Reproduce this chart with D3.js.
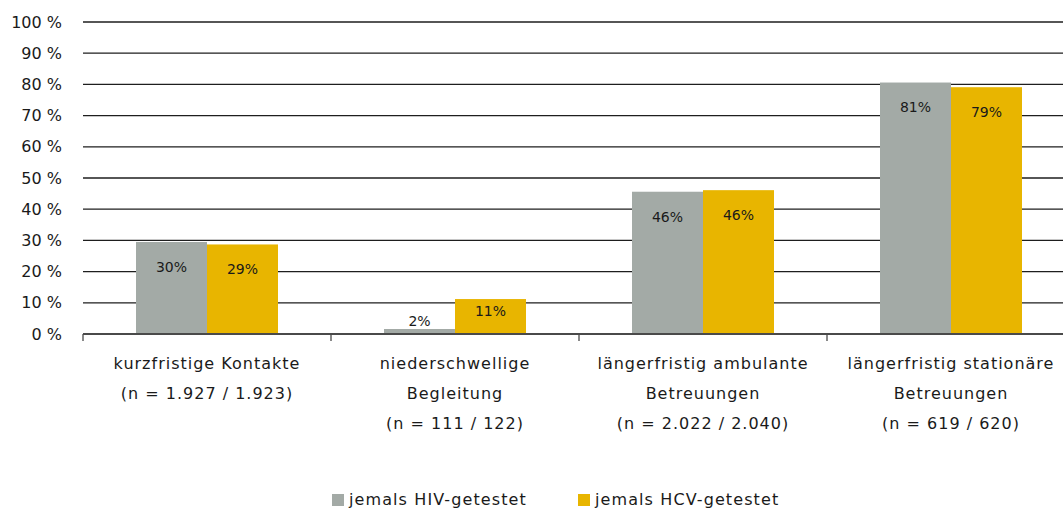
<!DOCTYPE html>
<html>
<head>
<meta charset="utf-8">
<style>
  body { margin: 0; background: #fff; }
  svg { display: block; font-family: "DejaVu Sans", sans-serif; }
</style>
</head>
<body>
<div id="chart"></div>
<script src="https://cdn.jsdelivr.net/npm/d3@7"></script>
<script>
  // data
  var categories = ['kurz', 'nieder', 'ambulant', 'stationaer'];
  var categoryLines = [
    ['kurzfristige Kontakte', '(n = 1.927 / 1.923)'],
    ['niederschwellige', 'Begleitung', '(n = 111 / 122)'],
    ['längerfristig ambulante', 'Betreuungen', '(n = 2.022 / 2.040)'],
    ['längerfristig stationäre', 'Betreuungen', '(n = 619 / 620)']
  ];
  var seriesNames = ['jemals HIV-getestet', 'jemals HCV-getestet'];
  var hivValues = [29.5, 1.6, 45.6, 80.6];
  var hcvValues = [28.7, 11.2, 46.1, 79.1];
  var hivLabels = ['30%', '2%', '46%', '81%'];
  var hcvLabels = ['29%', '11%', '46%', '79%'];
  var yTicks = [0, 10, 20, 30, 40, 50, 60, 70, 80, 90, 100];
  var colors = ['#a3aaa6', '#e8b500'];

  var W = 1063, H = 508;
  var svg = d3.select('#chart').append('svg')
    .attr('width', W).attr('height', H);

  var x = d3.scaleBand().domain(categories).range([83, 1075]);
  var inner = d3.scaleBand().domain([0, 1]).range([53, 195]);
  var y = d3.scaleLinear().domain([0, 100]).range([334, 22]);

  // gridlines
  svg.append('g').selectAll('line')
    .data(yTicks.filter(function(t){ return t > 0; }))
    .enter().append('line')
    .attr('x1', 83).attr('x2', 1075)
    .attr('y1', function(d){ return y(d); })
    .attr('y2', function(d){ return y(d); })
    .attr('stroke', '#1e1e1e').attr('stroke-width', 1.3);

  // y labels
  svg.append('g').selectAll('text')
    .data(yTicks).enter().append('text')
    .attr('x', 62)
    .attr('y', function(d){ return y(d); })
    .attr('dy', '0.35em')
    .attr('text-anchor', 'end')
    .attr('font-size', 16)
    .attr('fill', '#1a1a1a')
    .text(function(d){ return d + ' %'; });

  // bars
  var rows = categories.map(function(c, i){
    return [
      {cat: c, s: 0, v: hivValues[i], label: hivLabels[i]},
      {cat: c, s: 1, v: hcvValues[i], label: hcvLabels[i]}
    ];
  });
  var all = d3.merge(rows);

  svg.append('g').selectAll('rect')
    .data(all).enter().append('rect')
    .attr('x', function(d){ return x(d.cat) + inner(d.s); })
    .attr('width', inner.bandwidth())
    .attr('y', function(d){ return y(d.v); })
    .attr('height', function(d){ return y(0) - y(d.v); })
    .attr('fill', function(d){ return colors[d.s]; });

  // value labels
  svg.append('g').selectAll('text')
    .data(all).enter().append('text')
    .attr('x', function(d){ return x(d.cat) + inner(d.s) + inner.bandwidth() / 2; })
    .attr('y', function(d){
      var h = y(0) - y(d.v);
      if (h < 20) return y(d.v) - 8;
      return y(d.v) + Math.min(25, h / 2 - 5);
    })
    .attr('dy', '0.35em')
    .attr('text-anchor', 'middle')
    .attr('font-size', 14)
    .attr('fill', '#1a1a1a')
    .text(function(d){ return d.label; });

  // baseline + ticks
  svg.append('line')
    .attr('x1', 83).attr('x2', 1075)
    .attr('y1', y(0)).attr('y2', y(0))
    .attr('stroke', '#4a4a4a').attr('stroke-width', 2);
  svg.append('g').selectAll('line')
    .data(categories).enter().append('line')
    .attr('x1', function(d){ return x(d); })
    .attr('x2', function(d){ return x(d); })
    .attr('y1', y(0)).attr('y2', y(0) + 7)
    .attr('stroke', '#4a4a4a').attr('stroke-width', 1.3);

  // category labels
  var cl = svg.append('g').selectAll('text')
    .data(categories).enter().append('text')
    .attr('text-anchor', 'middle')
    .attr('font-size', 16)
    .attr('letter-spacing', 1)
    .attr('fill', '#1a1a1a');
  cl.each(function(d, i){
    var t = d3.select(this);
    categoryLines[i].forEach(function(line, k){
      t.append('tspan')
        .attr('x', x(d) + x.bandwidth() / 2)
        .attr('y', 363 + k * 30)
        .attr('dy', '0.35em')
        .text(line);
    });
  });

  // legend
  var legendX = [332, 578];
  var lg = svg.append('g').selectAll('g')
    .data(seriesNames).enter().append('g')
    .attr('transform', function(d, i){ return 'translate(' + legendX[i] + ',494)'; });
  lg.append('rect')
    .attr('width', 12).attr('height', 12)
    .attr('fill', function(d, i){ return colors[i]; });
  lg.append('text')
    .attr('x', 17).attr('y', 5)
    .attr('dy', '0.35em')
    .attr('font-size', 16)
    .attr('letter-spacing', 1.1)
    .attr('fill', '#1a1a1a')
    .text(function(d){ return d; });
</script>
</body>
</html>
